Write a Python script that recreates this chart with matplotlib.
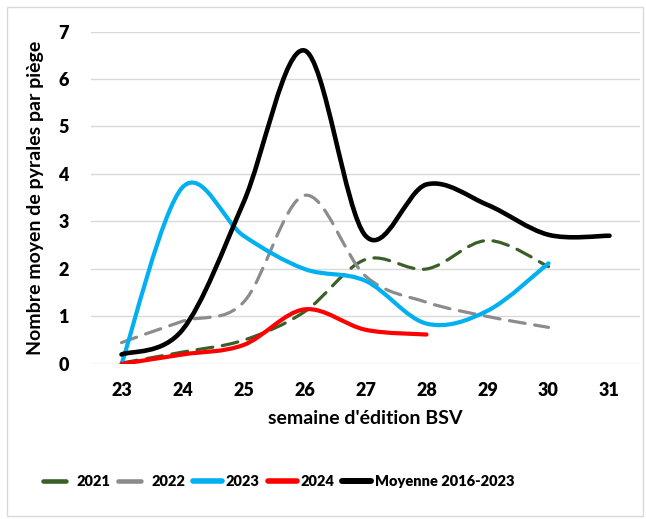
import numpy as np
import matplotlib
matplotlib.use("Agg")
import matplotlib.pyplot as plt
from matplotlib.path import Path
from matplotlib.patches import PathPatch, Rectangle
from matplotlib.lines import Line2D

plt.rcParams['font.family'] = ['Lato', 'DejaVu Sans']

# ------------------------
# data
# ------------------------
weeks = [23, 24, 25, 26, 27, 28, 29, 30, 31]

y2021 = [0.02, 0.25, 0.5, 1.1, 2.2, 2.0, 2.6, 2.05]
y2022 = [0.45, 0.9, 1.3, 3.55, 1.85, 1.3, 1.0, 0.77]
y2023 = [0.0, 3.72, 2.7, 2.0, 1.75, 0.85, 1.12, 2.12]
y2024 = [0.0, 0.2, 0.4, 1.15, 0.72, 0.62]
ymean = [0.2, 0.72, 3.4, 6.6, 2.7, 3.78, 3.35, 2.72, 2.7]

series = [
    ("2021", y2021, "#3A5F28", (0, (5, 3)), 2.3),
    ("2022", y2022, "#8C8C8C", (0, (5, 3)), 2.3),
    ("2023", y2023, "#00B0F0", "-", 3.0),
    ("2024", y2024, "#FF0000", "-", 3.0),
    ("Moyenne 2016-2023", ymean, "#000000", "-", 3.3),
]


def smooth_path(xs, ys):
    """Excel-like smoothed line as cubic bezier segments"""
    pts = np.column_stack([xs, ys]).astype(float)
    n = len(pts)
    verts = [pts[0]]
    codes = [Path.MOVETO]
    for i in range(n - 1):
        p0 = pts[i - 1] if i > 0 else pts[i]
        p1 = pts[i]
        p2 = pts[i + 1]
        p3 = pts[i + 2] if i + 2 < n else pts[i + 1]
        c1 = p1 + (p2 - p0) / 6.0
        c2 = p2 - (p3 - p1) / 6.0
        verts += [c1, c2, p2]
        codes += [Path.CURVE4] * 3
    return Path(verts, codes)


fig = plt.figure(figsize=(6.46, 5.19), dpi=100)
ax = fig.add_axes([0.1409, 0.2987, 0.8498, 0.6406])

handles = []
for name, vals, col, ls, lw in series:
    p = smooth_path(weeks[:len(vals)], vals)
    patch = PathPatch(p, facecolor="none", edgecolor=col, lw=lw, linestyle=ls,
                      capstyle="round", joinstyle="round", zorder=3)
    ax.add_patch(patch)
    handles.append(Line2D([], [], color=col, lw=lw + 1, linestyle=ls,
                          solid_capstyle="round", dash_capstyle="round"))

ax.set_xlim(22.5, 31.5)
ax.set_ylim(0, 7)
ax.set_xticks(weeks)
ax.set_yticks(range(0, 8))
ax.set_xticklabels([str(w) for w in weeks], fontsize=13, fontweight="heavy")
ax.set_yticklabels([str(v) for v in range(0, 8)], fontsize=13, fontweight="heavy")
ax.tick_params(length=0)
ax.tick_params(axis="x", pad=13)
ax.tick_params(axis="y", pad=16)
ax.grid(axis="y", color="#D9D9D9", lw=1.0)
ax.set_axisbelow(True)
for s in ax.spines.values():
    s.set_visible(False)

ax.set_xlabel("semaine d'édition BSV", fontsize=14, fontweight="bold", labelpad=8)
ax.set_ylabel("Nombre moyen de pyrales par piège", fontsize=14, fontweight="bold",
              labelpad=10)

fig.legend(handles, [s[0] for s in series], loc="center", ncol=5,
           bbox_to_anchor=(0.432, 0.072), frameon=False, handlelength=2.0,
           handletextpad=0.25, columnspacing=0.55,
           prop={"weight": "heavy", "size": 10.5})

# chart border
fig.patches.append(Rectangle((0.011, 0.006), 0.985, 0.981, transform=fig.transFigure,
                             fill=False, edgecolor="#D9D9D9", lw=1.0))

plt.savefig("out.png", dpi=100)
